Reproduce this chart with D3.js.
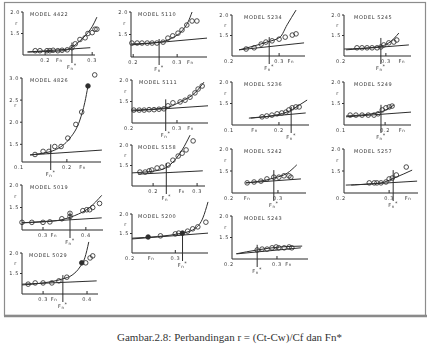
<!DOCTYPE html>
<html>
<head>
<meta charset="utf-8">
<title>Gambar 2.8</title>
<script src="https://cdn.jsdelivr.net/npm/d3@7"></script>
<style>
  body { margin: 0; background: #fff; }
  svg { display: block; }
  .ax, .crv, .base, .star { fill: none; stroke: #2e2e2e; stroke-width: 1px; }
  .pt { fill: #fff; fill-opacity: 0; stroke: #2e2e2e; stroke-width: 0.85px; }
  .pt.full { fill: #2e2e2e; fill-opacity: 1; }
  .lbl { font-family: 'DejaVu Sans', sans-serif; font-size: 5px; fill: #3a3a3a; letter-spacing: 0.6px; }
  .cap { font-family: 'Liberation Serif', serif; font-size: 11px; fill: #333; }
</style>
</head>
<body>
<svg id="chart" width="429" height="352"></svg>
<script>
// models in drawing order (column by column)
var models = ['4422', '4826', '5019', '5029', '5110', '5111', '5158', '5200',
              '5234', '5236', '5242', '5243', '5245', '5249', '5257'];

// Fn* of each model and the r where its marker line starts
var fnStar    = [0.257, 0.164, 0.363, 0.345, 0.259, 0.275, 0.230, 0.317, 0.279, 0.226, 0.291, 0.256, 0.288, 0.190, 0.309];
var fnStarTop = [1.29, 1.50, 1.39, 1.46, 1.40, 1.55, 1.56, 1.46, 1.46, 1.42, 1.52, 1.33, 1.44, 1.47, 1.52];

// axis ranges
var fnDomain = [[0.153, 0.306], [0.1, 0.276], [0.251, 0.44], [0.252, 0.425], [0.195, 0.368],
                [0.2, 0.369], [0.152, 0.318], [0.198, 0.377], [0.2, 0.355], [0.1, 0.264],
                [0.2, 0.361], [0.2, 0.369], [0.2, 0.36], [0.1, 0.263], [0.2, 0.364]];
var rDomain = [[1, 2], [1.1, 3], [1, 2], [1, 2], [1, 2], [1, 2], [1, 2], [1, 2],
               [1, 2], [1, 2], [1, 2], [1, 2], [1, 2], [1, 2], [1, 2]];

// tick labels
var fnTicks = [[0.2, 0.3], [0.1, 0.2], [0.3, 0.4], [0.3, 0.4], [0.2, 0.3], [0.2, 0.3], [0.2, 0.3], [0.2, 0.3],
               [0.2, 0.3], [0.1, 0.2], [0.2, 0.3], [0.2, 0.3], [0.2, 0.3], [0.1, 0.2], [0.2, 0.3]];
var fnLabelAt = [0.23, 0.235, 0.325, 0.325, 0.33, 0.33, 0.265, 0.243, 0.325, 0.148, 0.233, 0.326, 0.338, 0.241, 0.342];
var rTicks = [[1.5, 2], [1.5, 2, 2.5, 3], [1.5, 2], [1.5, 2], [1.5, 2], [1.5, 2], [1.5, 2], [1.5, 2],
              [1.5, 2], [1.5, 2], [1.5, 2], [1.5, 2], [1.5, 2], [1.5, 2], [1.5, 2]];
var rLabelAt = [1.75, 2.38, 1.75, 1.75, 1.75, 1.75, 1.75, 1.75, 1.75, 1.75, 1.75, 1.75, 1.75, 1.75, 1.75];

// measured points [Fn, r, filled]
var pts4422 = [[0.179,1.10],[0.189,1.10],[0.204,1.10],[0.210,1.10],[0.217,1.11],[0.227,1.10],[0.236,1.11],[0.247,1.12],
               [0.257,1.17],[0.264,1.26],[0.274,1.36],[0.285,1.40],[0.291,1.50],[0.300,1.52],[0.306,1.60],[0.310,1.60]];
var pts4826 = [[0.129,1.27],[0.147,1.34],[0.160,1.34],[0.173,1.45],[0.187,1.45],[0.202,1.64],[0.220,1.95],
               [0.233,2.23],[0.247,2.82,1],[0.262,3.07]];
var pts5019 = [[0.251,1.17],[0.274,1.17],[0.300,1.17],[0.316,1.18],[0.344,1.25],[0.363,1.30],[0.363,1.37],
               [0.393,1.43],[0.402,1.45],[0.409,1.45],[0.416,1.50],[0.432,1.59]];
var pts5029 = [[0.266,1.24],[0.282,1.27],[0.300,1.27],[0.320,1.27],[0.336,1.32],[0.354,1.41],[0.388,1.76,1],
               [0.397,1.76],[0.407,1.88],[0.413,1.93]];
var pts5110 = [[0.197,1.31],[0.209,1.31],[0.220,1.31],[0.232,1.31],[0.243,1.31],[0.254,1.31],[0.268,1.33],
               [0.279,1.42],[0.290,1.47],[0.302,1.53],[0.311,1.60],[0.322,1.71],[0.334,1.80],[0.345,1.80]];
var pts5111 = [[0.204,1.30],[0.216,1.30],[0.227,1.30],[0.238,1.31],[0.249,1.31],[0.260,1.32],[0.271,1.33],
               [0.280,1.40],[0.291,1.47],[0.307,1.49],[0.318,1.53],[0.329,1.60],[0.340,1.70],[0.347,1.79],[0.356,1.86]];
var pts5158 = [[0.170,1.34],[0.182,1.34],[0.191,1.37],[0.197,1.39],[0.209,1.44],[0.220,1.46],[0.234,1.51],
               [0.245,1.63],[0.257,1.73],[0.266,1.80],[0.275,1.88],[0.291,2.10]];
var pts5200 = [[0.236,1.41,1],[0.265,1.44],[0.300,1.49],[0.308,1.51],[0.317,1.51,1],[0.329,1.56],[0.341,1.62],
               [0.353,1.67],[0.372,1.79]];
var pts5234 = [[0.230,1.17],[0.247,1.20],[0.262,1.29],[0.272,1.34],[0.285,1.37],[0.300,1.41],[0.313,1.46],
               [0.328,1.51],[0.336,1.54]];
var pts5236 = [[0.164,1.19],[0.174,1.21],[0.185,1.23],[0.196,1.26],[0.206,1.28],[0.215,1.30],[0.221,1.35],
               [0.228,1.40],[0.236,1.42],[0.243,1.42]];
var pts5242 = [[0.233,1.23],[0.248,1.25],[0.263,1.27],[0.276,1.32],[0.291,1.36],[0.302,1.36],[0.313,1.39],
               [0.324,1.39],[0.328,1.36]];
var pts5243 = [[0.256,1.21],[0.267,1.23],[0.278,1.23],[0.289,1.26],[0.298,1.28],[0.304,1.26],[0.316,1.26],
               [0.327,1.28],[0.333,1.26]];
var pts5245 = [[0.231,1.20],[0.243,1.20],[0.255,1.20],[0.267,1.20],[0.279,1.20],[0.288,1.22],[0.295,1.27],
               [0.307,1.32],[0.319,1.34],[0.326,1.39]];
var pts5249 = [[0.115,1.23],[0.129,1.23],[0.144,1.23],[0.159,1.23],[0.173,1.23],[0.183,1.26],[0.193,1.35],
               [0.202,1.40],[0.210,1.42],[0.217,1.44]];
var pts5257 = [[0.256,1.23],[0.267,1.23],[0.273,1.23],[0.282,1.23],[0.293,1.25],[0.300,1.32],[0.307,1.34],
               [0.316,1.41],[0.338,1.59]];

// faired curves through the points
var crv4422 = [[0.164,1.07],[0.200,1.08],[0.240,1.10],[0.257,1.18],[0.274,1.33],[0.291,1.52],[0.300,1.66],[0.310,1.88]];
var crv4826 = [[0.118,1.26],[0.140,1.29],[0.173,1.37],[0.190,1.47],[0.207,1.64],[0.229,2.05],[0.240,2.45],[0.247,2.82]];
var crv5019 = [[0.251,1.16],[0.300,1.18],[0.344,1.23],[0.374,1.32],[0.409,1.50],[0.437,1.77]];
var crv5029 = [[0.252,1.22],[0.300,1.27],[0.345,1.37],[0.366,1.46],[0.384,1.66],[0.395,1.88],[0.404,2.27]];
var crv5110 = [[0.195,1.29],[0.261,1.33],[0.288,1.42],[0.311,1.58],[0.325,1.78],[0.334,2.00]];
var crv5111 = [[0.200,1.30],[0.273,1.35],[0.307,1.49],[0.340,1.70],[0.360,1.95]];
var crv5158 = [[0.152,1.32],[0.216,1.39],[0.243,1.56],[0.266,1.88],[0.284,2.24]];
var crv5200 = [[0.198,1.38],[0.317,1.51],[0.348,1.64],[0.365,1.90],[0.377,2.31]];
var crv5234 = [[0.215,1.15],[0.274,1.34],[0.302,1.46],[0.317,1.76],[0.336,2.12]];
var crv5236 = [[0.140,1.16],[0.217,1.30],[0.240,1.44],[0.260,1.58]];
var crv5242 = [[0.230,1.23],[0.291,1.34],[0.320,1.45],[0.341,1.64]];
var crv5243 = [[0.209,1.12],[0.256,1.21],[0.307,1.28],[0.356,1.30]];
var crv5245 = [[0.200,1.17],[0.279,1.22],[0.310,1.34],[0.331,1.56]];
var crv5249 = [[0.105,1.21],[0.180,1.28],[0.202,1.35],[0.222,1.47]];
var crv5257 = [[0.204,1.18],[0.282,1.23],[0.311,1.34],[0.351,1.52]];

// straight base lines
var base4422 = [[0.162,1.07],[0.296,1.17]];
var base4826 = [[0.118,1.26],[0.278,1.37]];
var base5019 = [[0.251,1.16],[0.437,1.27]];
var base5029 = [[0.252,1.24],[0.422,1.32]];
var base5110 = [[0.197,1.27],[0.368,1.42]];
var base5111 = [[0.200,1.28],[0.369,1.40]];
var base5158 = [[0.166,1.29],[0.313,1.37]];
var base5200 = [[0.198,1.36],[0.377,1.51]];
var base5234 = [[0.215,1.15],[0.353,1.32]];
var base5236 = [[0.136,1.16],[0.257,1.28]];
var base5242 = [[0.230,1.23],[0.350,1.32]];
var base5243 = [[0.211,1.12],[0.353,1.26]];
var base5245 = [[0.205,1.15],[0.355,1.27]];
var base5249 = [[0.105,1.19],[0.263,1.30]];
var base5257 = [[0.216,1.18],[0.362,1.27]];

var caption = 'Gambar.2.8: Perbandingan r = (Ct-Cw)/Cf dan Fn*';

var points = {4422: pts4422, 4826: pts4826, 5019: pts5019, 5029: pts5029, 5110: pts5110, 5111: pts5111,
              5158: pts5158, 5200: pts5200, 5234: pts5234, 5236: pts5236, 5242: pts5242, 5243: pts5243,
              5245: pts5245, 5249: pts5249, 5257: pts5257};
var curves = {4422: crv4422, 4826: crv4826, 5019: crv5019, 5029: crv5029, 5110: crv5110, 5111: crv5111,
              5158: crv5158, 5200: crv5200, 5234: crv5234, 5236: crv5236, 5242: crv5242, 5243: crv5243,
              5245: crv5245, 5249: crv5249, 5257: crv5257};
var bases = {4422: base4422, 4826: base4826, 5019: base5019, 5029: base5029, 5110: base5110, 5111: base5111,
             5158: base5158, 5200: base5200, 5234: base5234, 5236: base5236, 5242: base5242, 5243: base5243,
             5245: base5245, 5249: base5249, 5257: base5257};

// panel boxes on the page: [left, right, top, bottom, model label offset]
var panelBox = [
    [23, 95, 12, 55, 7], [22, 101, 78, 162, 8], [22, 103, 185, 230, 8], [22, 98, 253, 294, 7],
    [131, 207, 12, 57, 7], [132, 208, 80, 123, 7], [132, 205, 145, 186, 6], [132, 208, 214, 253, 6],
    [232, 305, 15, 56, 12], [232, 309, 82, 125, 12], [232, 306, 149, 193, 12], [232, 308, 216, 259, 12],
    [344, 411, 15, 56, 10], [344, 411, 82, 125, 10], [344, 418, 149, 193, 10]
];

var svg = d3.select('#chart');

svg.append('defs').append('filter').attr('id', 'scan')
    .append('feGaussianBlur').attr('stdDeviation', 0.3);

// frame of the scanned figure
svg.append('rect')
    .attr('x', 4.5).attr('y', 2.5).attr('width', 421).attr('height', 313)
    .attr('fill', '#fff').attr('stroke', '#8c8c8c').attr('stroke-width', 1.2);
svg.append('line')
    .attr('x1', 4).attr('x2', 427).attr('y1', 316).attr('y2', 316)
    .attr('stroke', '#8a8a8a').attr('stroke-width', 2.5);

var page = svg.append('g').attr('filter', 'url(#scan)');
var fmt = d3.format('.1f');

models.forEach(function (m, i) {
    var b = panelBox[i];
    var x = d3.scaleLinear().domain(fnDomain[i]).range([b[0], b[1]]);
    var y = d3.scaleLinear().domain(rDomain[i]).range([b[3], b[2]]);
    var g = page.append('g');

    // axes
    g.append('path').attr('class', 'ax')
        .attr('d', 'M' + b[0] + ',' + b[2] + 'V' + b[3] + 'H' + b[1]);

    // r ticks and labels
    rTicks[i].forEach(function (v) {
        g.append('line').attr('class', 'ax')
            .attr('x1', b[0] - 2).attr('x2', b[0]).attr('y1', y(v)).attr('y2', y(v));
        g.append('text').attr('class', 'lbl')
            .attr('x', b[0] - 3).attr('y', y(v) + 1.8)
            .attr('text-anchor', 'end').text(fmt(v));
    });
    g.append('text').attr('class', 'lbl')
        .attr('x', b[0] - 5).attr('y', y(rLabelAt[i]) + 1.8)
        .attr('text-anchor', 'end').text('r');

    // Fn ticks and labels
    fnTicks[i].forEach(function (v) {
        var atOrigin = Math.abs(v - fnDomain[i][0]) < 0.005;
        if (!atOrigin) {
            g.append('line').attr('class', 'ax')
                .attr('x1', x(v)).attr('x2', x(v)).attr('y1', b[3] - 3).attr('y2', b[3]);
        }
        g.append('text').attr('class', 'lbl')
            .attr('x', x(v) - (atOrigin ? 3 : 0)).attr('y', b[3] + 7)
            .attr('text-anchor', 'middle').text(fmt(v));
    });
    var fnText = g.append('text').attr('class', 'lbl')
        .attr('x', x(fnLabelAt[i])).attr('y', b[3] + 7).attr('text-anchor', 'middle');
    fnText.append('tspan').text('F');
    fnText.append('tspan').attr('font-size', 4).text('n');

    // model name
    g.append('text').attr('class', 'lbl')
        .attr('x', b[0] + b[4]).attr('y', b[2] + 3.5)
        .text('MODEL ' + m);

    // base line and faired curve
    var line = d3.line().x(function (d) { return x(d[0]); }).y(function (d) { return y(d[1]); });
    g.append('path').attr('class', 'base').attr('d', line(bases[m]));
    g.append('path').attr('class', 'crv')
        .attr('d', line.curve(d3.curveMonotoneX)(curves[m]));

    // Fn* marker
    g.append('line').attr('class', 'star')
        .attr('x1', x(fnStar[i])).attr('x2', x(fnStar[i]))
        .attr('y1', y(fnStarTop[i])).attr('y2', b[3] + 8);
    var st = g.append('text').attr('class', 'lbl')
        .attr('x', x(fnStar[i])).attr('y', b[3] + 14).attr('text-anchor', 'middle');
    st.append('tspan').text('F');
    st.append('tspan').attr('font-size', 4).attr('dy', 0.8).text('n');
    st.append('tspan').attr('dy', -2.6).text('*');

    // measured points
    g.selectAll('circle.pt')
        .data(points[m])
        .enter().append('circle')
        .attr('class', function (d) { return d[2] ? 'pt full' : 'pt'; })
        .attr('cx', function (d) { return x(d[0]); })
        .attr('cy', function (d) { return y(d[1]); })
        .attr('r', 2.3);
});

svg.append('text').attr('class', 'cap')
    .attr('x', 229.5).attr('y', 341)
    .attr('text-anchor', 'middle')
    .text(caption);
</script>
</body>
</html>
